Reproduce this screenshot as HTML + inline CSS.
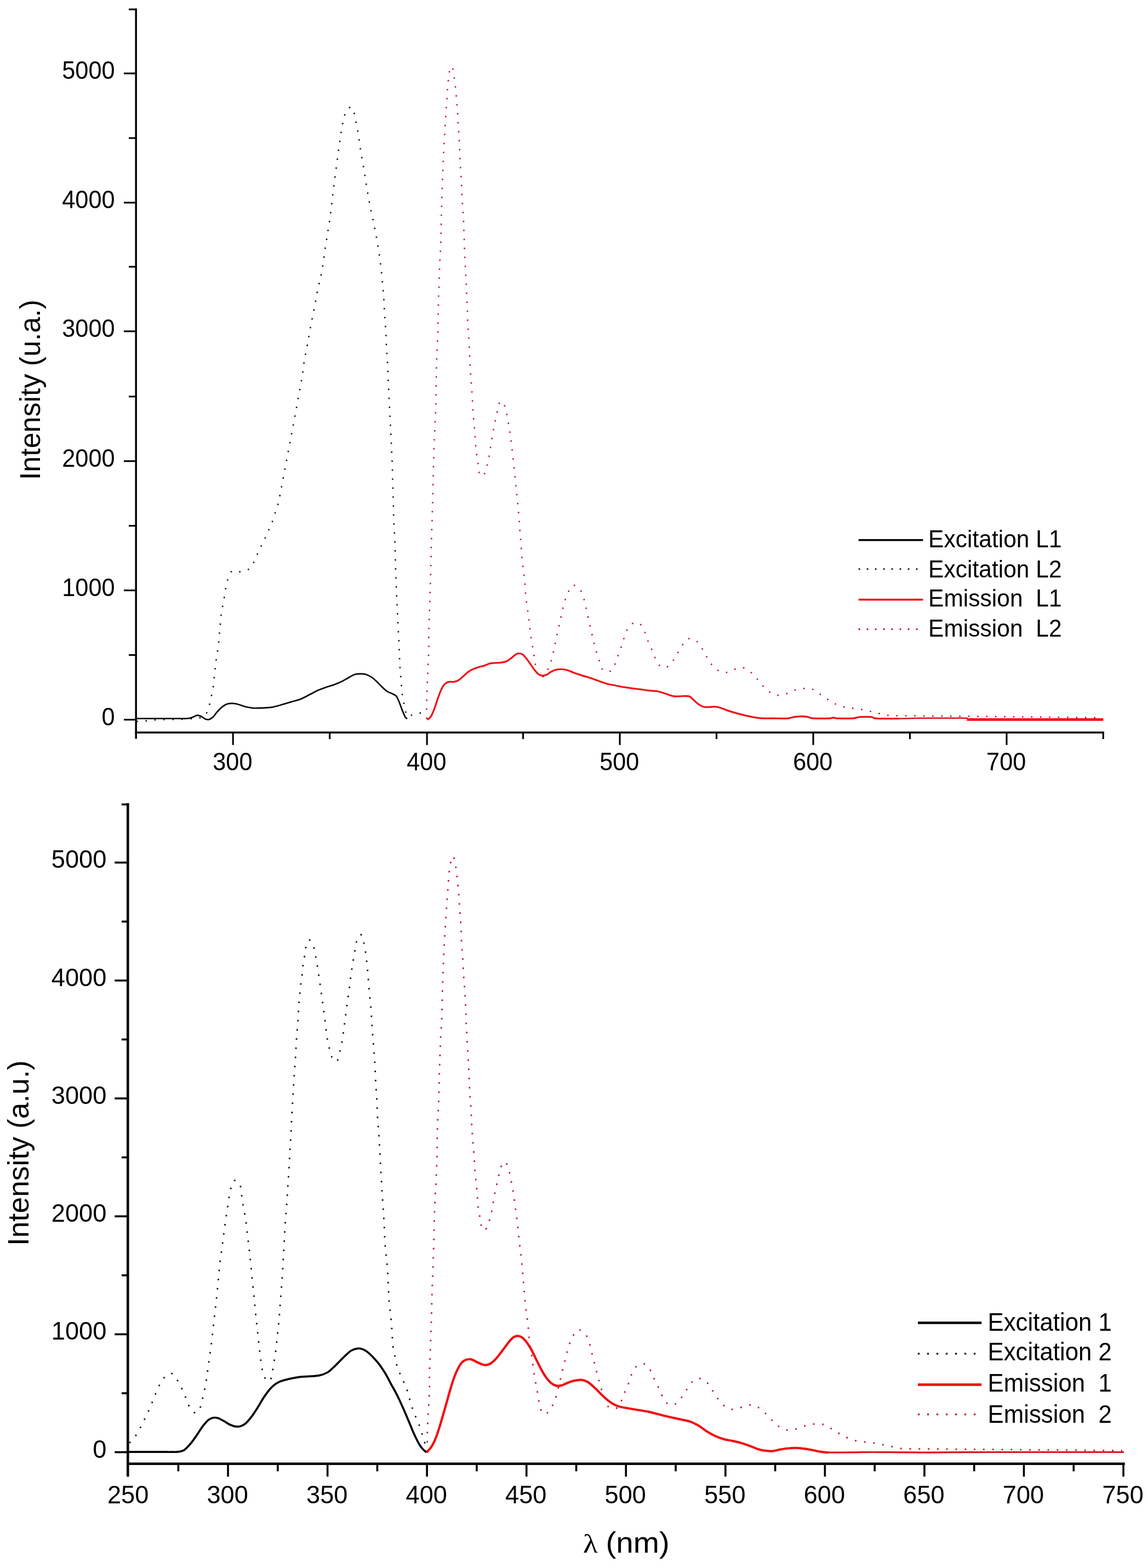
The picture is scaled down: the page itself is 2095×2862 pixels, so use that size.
<!DOCTYPE html>
<html lang="en">
<head>
<meta charset="utf-8">
<title>Excitation and emission spectra</title>
<style>
html,body{margin:0;padding:0;background:#fff;}
body{width:2095px;height:2862px;overflow:hidden;}
svg{display:block;}
text{white-space:pre;}
</style>
</head>
<body>
<svg width="2095" height="2862" viewBox="0 0 2095 2862">
<rect width="2095" height="2862" fill="#ffffff"/>
<g class="chart">
<path d="M249.1 1316.9C254.5 1316.6 260 1316.3 265.4 1315.9C271.5 1315.3 277.5 1314.4 283.6 1314C293.3 1313.5 303 1313.6 312.6 1313.3C323.5 1313 334.4 1313 345.3 1312.2C352.6 1311.7 360 1311.2 367.1 1309.7C369.8 1309.1 372.8 1308.3 374.4 1306.1C378 1300.9 379.7 1294.6 381.6 1288.6C383.4 1283.3 384.1 1277.7 385.3 1272.3C386.5 1266.8 388 1261.4 388.9 1255.9C389.9 1249.9 390.1 1243.8 390.7 1237.8C391.3 1232.3 391.9 1226.9 392.5 1221.4C393.1 1216 393.6 1210.5 394.4 1205.1C395.1 1199.6 396.1 1194.2 396.9 1188.7C397.7 1183.3 398.5 1177.9 399.1 1172.4C399.7 1167 400 1161.5 400.5 1156.1C401 1150.6 401.5 1145.2 402 1139.7C402.5 1134.3 402.7 1128.8 403.4 1123.4C404.2 1117.9 405.4 1112.5 406.3 1107C407.2 1102.2 408.1 1097.3 408.9 1092.5C409.8 1087.1 410.4 1081.6 411.4 1076.2C412.5 1070.7 413.2 1065.1 415.1 1059.8C417.2 1053.7 418.1 1046 423.4 1042.4C427.7 1039.4 433.9 1044.3 439 1043.5C445 1042.5 451.6 1041.3 456.1 1037.3C461.1 1032.9 462.9 1025.8 465.9 1019.9C468.6 1014.5 470.6 1008.9 473.2 1003.5C475.8 998 478.9 992.7 481.5 987.2C484.1 981.8 486.4 976.3 488.8 970.8C491.2 965.4 493.9 960 496.1 954.5C498.1 949.1 499.7 943.6 501.5 938.1C503.3 932.7 505.4 927.3 506.9 921.8C508.4 916.4 509.5 910.9 510.6 905.4C524.1 834.1 537.8 762.7 550.7 691.3C552.7 680.3 553.6 669.2 555.4 658.2C557.3 647.3 559.6 636.5 561.6 625.5C563.6 614.7 565.4 603.7 567.4 592.9C569.5 581.9 571.9 571.1 574 560.2C576.1 549.3 577.9 538.3 580.1 527.5C582.4 516.5 585.4 505.8 587.4 494.8C589.4 484 590.5 473 592.1 462.1C593.8 451.2 595.5 440.3 597.2 429.4C598.9 418.5 600.8 407.7 602.3 396.7C603.8 385.9 605 374.9 606.3 364C607.6 353.1 608.9 342.2 610.3 331.4C611.7 320.6 613.2 309.8 614.6 299C616.1 288 617.5 277 619 266C620.5 255.2 621.9 244.4 623.7 233.7C624.7 228 625.9 222.4 627.4 216.9C628.8 211.8 629.3 206 632.4 201.7C634.6 198.7 639.2 194 642.3 196.2C646.9 199.6 645.9 207.1 647.3 212.6C648.8 218 649.9 223.5 651 228.9C652.1 234.4 653 239.8 653.9 245.3C655.6 256.2 656.8 267.1 658.6 278C660.4 288.9 662.6 299.7 664.4 310.7C666.2 321.5 667.7 332.5 669.5 343.3C671.3 354.3 673.2 365.2 675.3 376C677.4 387 680 397.8 682.2 408.7C684.4 419.6 686.5 430.5 688.4 441.4C690.2 452.3 692 463.2 693.5 474.1C694.9 485 696 495.9 697.1 506.8C698.2 517.7 699.2 528.6 700 539.5C700.8 550.4 701.2 561.3 701.8 572.2C702.5 583.1 703.4 593.9 704 604.8C704.6 615.6 704.8 626.4 705.4 637.2C706.1 648.2 707.1 659.2 707.6 670.2C707.9 675.5 707.8 680.8 708 686.1C708.5 697.7 709.2 709.3 709.8 720.9C710.3 731.8 710.7 742.7 711.3 753.6C711.8 764.5 712.5 775.4 713.1 786.3C713.6 797.2 714 808.1 714.5 819C715 829.9 715.6 840.8 716 851.7C716.3 862.6 716.4 873.5 716.7 884.4C717 895.3 717.5 906.2 717.8 917.1C718.1 928 718.1 938.9 718.5 949.8C718.9 960.5 719.9 971.3 720.3 982.1C720.8 993 721.1 1003.9 721.4 1014.8C721.7 1025.7 721.8 1036.6 722.2 1047.5C722.5 1058.4 723.1 1069.2 723.6 1080.1C724.1 1091 724.6 1101.9 725.1 1112.8C725.5 1123.7 726 1134.6 726.5 1145.5C727.1 1156.4 727.8 1167.3 728.3 1178.2C728.9 1189.6 729.1 1201 729.6 1212.3C729.8 1217.8 730.3 1223.2 730.7 1228.7C731.1 1234.1 731.7 1239.6 732.1 1245C732.6 1250.5 732.6 1256 733.2 1261.4C733.8 1266.9 734.7 1272.3 735.8 1277.7C736.8 1283.2 737.9 1288.7 739.4 1294.1C740.6 1298.6 740.2 1304.4 743.8 1307.5C746 1309.4 749.3 1305.7 752.1 1305C758.1 1303.4 764.2 1301.9 770.3 1300.6C772.7 1300.1 775.1 1299.9 777.5 1299.5" fill="none" stroke="#111" stroke-width="2.6" stroke-linejoin="round" stroke-linecap="butt" stroke-dasharray="2.6 13.8"/>
<path d="M778.6 1312.2C778.6 1301.9 778.4 1291.6 778.6 1281.4C778.8 1270.5 779.3 1259.6 779.7 1248.7C780.5 1228.2 781.9 1207.8 782.4 1187.3C782.8 1176.4 782.3 1165.5 782.4 1154.6C782.6 1143.7 783.2 1132.8 783.5 1121.9C783.9 1111 784.3 1100.1 784.6 1089.2C785.1 1072.6 785.7 1056.1 786.1 1039.5C786.5 1023.1 786.7 1006.8 787.2 990.4C787.5 979.5 787.9 968.6 788.3 957.7C788.8 941.4 789.3 925.1 789.7 908.7C790.1 892.4 790.4 876 790.8 859.7C791.2 843.3 791.7 827 792.3 810.7C792.6 799.8 793.2 788.9 793.7 778C794.2 767.1 794.8 756.2 795.2 745.3C795.7 728.3 796 711.4 796.2 694.4C796.3 689.1 796.1 683.9 796.2 678.6C796.5 667.7 796.9 656.8 797.3 645.9C797.8 634.9 798.4 623.9 798.8 612.8C799.2 601.9 799.3 591 799.5 580.1C799.8 569.2 799.9 558.4 800.2 547.5C800.5 536.6 801 525.7 801.3 514.8C801.7 503.9 801.9 493 802.4 482.1C802.9 471.2 803.8 460.3 804.2 449.4C804.7 438.5 804.7 427.6 805 416.7C805.2 405.6 805.4 394.4 805.7 383.3C806 372.4 806.4 361.5 806.8 350.6C807.1 339.7 807.4 328.8 807.9 317.9C808.3 307 808.8 296.1 809.3 285.2C809.9 274.3 810.5 263.4 811.1 252.5C811.7 241.6 812.3 230.7 813 219.9C813.6 209 814.4 198.1 815.1 187.2C815.9 176.3 816.3 165.4 817.3 154.5C817.8 149 818.5 143.5 819.5 138.1C820.5 132.6 819.3 125.6 823.5 121.8C825.9 119.6 826.7 127.7 827.5 130.9C828.8 136.2 829 141.8 829.7 147.2C830.3 152.7 831 158.1 831.5 163.6C832.5 174.4 833.6 185.3 834.4 196.2C835.2 207.1 835.5 218 836.2 228.9C836.9 239.8 837.8 250.7 838.4 261.6C838.9 272.5 838.9 283.4 839.5 294.3C840 305.2 841 316.1 841.6 327C842.3 337.9 842.5 348.8 843.1 359.7C843.7 370.6 844.7 381.5 845.3 392.4C845.9 403.3 846.3 414.2 846.7 425.1C847.2 436 847.4 446.9 847.8 457.7C848.2 468.6 848.7 479.5 849.3 490.4C849.8 501.3 850.5 512.2 851.1 523.1C851.6 534 852.1 544.9 852.5 555.8C853 566.7 853.1 577.6 853.6 588.5C854.2 599.4 855.2 610.3 855.8 621.2C856.4 632.1 856.7 643 857.3 653.9C857.8 664.8 858.4 675.7 859.1 686.6C859.8 698 860.9 709.5 861.6 720.9C862.3 731.8 862.7 742.7 863.4 753.6C864.2 764.5 865.5 775.4 866.3 786.3C867.2 797.2 867.6 808.1 868.5 819C869 824.5 869.9 829.9 870.7 835.4C871.6 840.8 872.6 846.3 873.6 851.7C874.7 857.4 873 864.4 876.9 868.8C878.9 871 883 866.6 884.5 864C887.3 859.3 887.9 853.4 889.2 848.1C890.8 842.1 892.2 836 893.2 829.9C895.1 819.3 896.1 808.6 897.9 797.9C899.9 786.8 902.1 775.6 904.5 764.5C905.7 758.9 906.7 753.3 908.5 747.8C910.2 742.6 909.5 733.3 915 732.6C920.1 731.9 920.5 741.2 922.3 746C924.2 751.2 924.9 756.9 925.9 762.3C927.9 773.2 929.8 784.1 931.4 795C932.9 806 934.1 817.1 935.4 828.1C936.6 838.9 937.9 849.6 939 860.4C940.1 871.1 940.8 881.7 941.9 892.4C943 903.5 944.5 914.6 945.5 925.8C946.5 936.7 947.2 947.6 948.1 958.5C948.9 969.4 949.8 980.3 950.6 991.2C951.5 1002.1 952.1 1013 953.1 1023.8C954.2 1034.8 956.1 1045.6 957.1 1056.5C958.2 1067.4 958.5 1078.4 959.7 1089.2C960.8 1100.2 962.7 1111 964 1121.9C965.5 1133.2 966.5 1144.5 968 1155.7C969.5 1166.3 971.4 1176.8 973.1 1187.3C974.9 1198.5 976 1209.9 978.5 1220.9C979.8 1226.4 980.3 1233.1 984.6 1236.7C986.9 1238.7 991 1235.4 993.1 1233.1C997.2 1228.3 999.6 1222.2 1002.1 1216.4C1004.5 1211.1 1006.1 1205.4 1007.6 1199.8C1010.4 1188.8 1012.4 1177.6 1014.8 1166.5C1017.2 1155.6 1019.7 1144.7 1022.1 1133.8C1024.5 1123 1026.4 1112.1 1029.4 1101.4C1031 1095.7 1033.2 1090.1 1035.7 1084.7C1038.4 1079.2 1039.2 1071.2 1044.8 1068.7C1049.2 1066.8 1054.6 1071.4 1057.8 1075.1C1061.8 1079.6 1063.3 1085.9 1065.1 1091.7C1068.3 1102.3 1070.2 1113.3 1072.7 1124.1C1075.2 1135.2 1077.6 1146.3 1080.2 1157.4C1082.8 1168.3 1085.4 1179.3 1088.4 1190.1C1090 1195.9 1092 1201.7 1094.1 1207.3C1096.3 1213 1096.6 1220.3 1101.4 1224C1105.3 1226.9 1112 1226.8 1115.9 1224C1120.9 1220.3 1121.7 1213 1124.1 1207.3C1126.4 1201.9 1127.8 1196.2 1129.9 1190.7C1131.9 1185.1 1134.3 1179.7 1136.2 1174C1138.1 1168.3 1139 1162.3 1141.4 1156.8C1143.8 1151.1 1145.7 1144.7 1150.4 1140.7C1154.3 1137.5 1160.4 1134.7 1165 1136.8C1170.9 1139.6 1173.1 1147.1 1176.2 1152.8C1178.6 1157.3 1179.4 1162.4 1181.3 1167.1C1183.6 1172.8 1186.5 1178.3 1188.9 1184C1191.3 1189.7 1192.9 1195.8 1195.8 1201.3C1199.1 1207.2 1201.4 1214.7 1207.3 1217.9C1211.5 1220.2 1217.5 1217.8 1221.2 1214.9C1226.7 1210.6 1229.5 1203.5 1233.3 1197.6C1236.9 1192.1 1239.5 1186 1243.3 1180.7C1247.1 1175.4 1249.8 1167.8 1256 1165.9C1261.6 1164.1 1268.1 1167.9 1272.6 1171.6C1277.9 1175.8 1280.3 1182.6 1283.8 1188.3C1287.4 1194 1290.1 1200.2 1293.8 1205.8C1297.3 1210.9 1300.4 1216.6 1305.3 1220.3C1310.1 1224 1315.9 1227.2 1322 1227.6C1327.7 1228 1332.8 1224 1338.3 1222.5C1343.9 1220.9 1349.6 1217.5 1355.3 1218.5C1361.6 1219.7 1367 1224.3 1371.9 1228.5C1377.4 1233.1 1381.4 1239.2 1386.1 1244.6C1390.7 1249.6 1394.4 1255.5 1399.8 1259.7C1404.8 1263.7 1410.4 1267.6 1416.7 1268.8C1422.6 1269.9 1428.8 1267.9 1434.6 1266.3C1440.1 1264.9 1444.9 1261.3 1450.3 1259.7C1455.5 1258.1 1460.9 1256.9 1466.3 1256.7C1471.9 1256.4 1477.8 1256.3 1483 1258.2C1488.9 1260.3 1493.5 1265 1498.7 1268.5C1504.4 1272.2 1509.8 1276.5 1515.7 1280C1520.9 1283.1 1526.3 1286.1 1532 1288.1C1537.5 1290.1 1543.2 1291.1 1549 1292.1C1554.4 1293 1559.9 1292.7 1565.3 1293.6C1570.9 1294.5 1576.4 1296 1582 1297.2C1587.3 1298.4 1592.7 1299.3 1598 1300.5C1603.6 1301.9 1609 1304.1 1614.6 1305.1C1620.1 1306 1625.7 1306.1 1631.3 1306.3C1645.4 1306.7 1659.6 1306.5 1673.7 1306.6C1687.8 1306.8 1702 1306.9 1716.1 1307C1728.1 1307.1 1740.1 1307.2 1752.1 1307.4C1764.1 1307.5 1776.1 1307.6 1788.1 1307.7C1800.1 1307.8 1812.1 1308 1824.2 1308.1C1836.2 1308.2 1848.2 1308.3 1860.2 1308.4C1872.2 1308.6 1884.2 1308.7 1896.2 1308.8C1908.2 1308.9 1920.2 1309 1932.2 1309.2C1945.4 1309.3 1958.6 1309.4 1971.8 1309.5C1985 1309.6 1998.2 1309.8 2011.4 1309.9" fill="none" stroke="#c40f2e" stroke-width="2.6" stroke-linejoin="round" stroke-linecap="butt" stroke-dasharray="2.6 13.8"/>
<path d="M249.1 1311.5C258.2 1311.5 267.2 1311.5 276.3 1311.5C282.4 1311.5 288.4 1311.5 294.5 1311.5C300.5 1311.5 306.6 1311.5 312.6 1311.5C318.7 1311.5 324.7 1311.5 330.8 1311.5C333.8 1311.5 336.9 1311.6 339.9 1311.5C342.1 1311.4 344.3 1311.3 346.4 1310.8C348.5 1310.3 350.5 1309.4 352.6 1308.6C355 1307.7 357.3 1305.9 359.9 1305.7C362.3 1305.5 364.8 1306.5 367.1 1307.5C369.8 1308.7 371.7 1311.2 374.4 1312.2C376.7 1313.1 379.3 1313.9 381.6 1313.3C384.4 1312.6 386.8 1310.6 388.9 1308.6C391.7 1305.9 393.6 1302.4 396.2 1299.5C399 1296.3 401.9 1293.1 405.3 1290.4C408 1288.2 411 1286.2 414.3 1285C417.2 1284 420.4 1283.9 423.4 1283.9C426.5 1283.9 429.5 1284.3 432.5 1285C437.4 1286.2 442.1 1288.5 447 1289.7C451.8 1290.9 456.7 1291.8 461.5 1292.3C466.4 1292.7 471.2 1292.4 476.1 1292.3C482.1 1292 488.2 1292.1 494.2 1291.2C500.4 1290.2 506.4 1288.4 512.4 1286.8C518.5 1285.2 524.5 1283.2 530.6 1281.4C536.6 1279.5 542.8 1278.3 548.7 1275.9C555 1273.4 560.8 1269.9 566.9 1266.8C571.7 1264.4 576.4 1261.7 581.4 1259.6C586.1 1257.5 591.1 1255.8 595.9 1254.1C600.7 1252.4 605.7 1251.2 610.5 1249.4C615.4 1247.5 620.3 1245.5 625 1243.2C628.7 1241.4 632.2 1239.1 635.9 1237C639.5 1235.1 642.9 1232.5 646.8 1231.2C650.3 1230.1 654 1229.8 657.7 1229.8C661.3 1229.8 665.1 1230.1 668.6 1231.2C672.5 1232.5 676.1 1234.6 679.5 1237C683.4 1239.9 686.8 1243.5 690.4 1246.9C694.1 1250.4 697.4 1254.3 701.3 1257.7C703.5 1259.8 705.9 1261.7 708.5 1263.2C710.8 1264.5 713.5 1264.9 715.8 1266.1C718.3 1267.4 721.2 1268.3 723.1 1270.5C725.7 1273.6 726.9 1277.6 728.5 1281.4C730.5 1286.1 732 1291.1 733.9 1295.9C735.7 1300.2 737.2 1304.6 739.4 1308.6C740.2 1310.1 741.8 1311 743 1312.2" fill="none" stroke="#000" stroke-width="2.7" stroke-linejoin="round" stroke-linecap="butt"/>
<path d="M779.7 1313.9C781.7 1312.1 784.1 1310.8 785.7 1308.7C787.7 1306 788.9 1302.7 790.3 1299.6C792 1295.7 793.4 1291.6 794.8 1287.5C796.4 1283 797.8 1278.4 799.3 1273.9C800.8 1269.8 802.2 1265.8 803.9 1261.8C805.2 1258.7 806.6 1255.6 808.4 1252.7C809.7 1250.8 811.2 1249 813 1247.6C814.8 1246.2 816.8 1245 819 1244.6C821.5 1244 824.1 1244.8 826.6 1244.6C829.1 1244.3 831.8 1244 834.2 1243C836.4 1242.1 838.3 1240.6 840.2 1239.1C842.9 1237 845.2 1234.4 847.8 1232.1C850.7 1229.6 853.5 1226.7 856.9 1224.6C859.7 1222.8 862.8 1221.6 865.9 1220.3C868.9 1219.2 872 1218.2 875 1217.3C878 1216.4 881.1 1215.9 884.1 1214.9C887.2 1213.9 890 1212.1 893.2 1211.3C896.1 1210.5 899.2 1210.3 902.3 1210C906.3 1209.7 910.4 1210 914.4 1209.4C918 1208.9 921.6 1208.2 925 1206.7C928.3 1205.2 931.1 1202.6 934 1200.4C936.6 1198.4 938.8 1195.9 941.6 1194.3C943.4 1193.3 945.5 1192.4 947.7 1192.5C949.8 1192.5 952 1193.3 953.7 1194.6C956.7 1196.9 958.9 1199.9 961.3 1202.8C964 1206.2 966.3 1209.8 968.8 1213.4C971.4 1216.9 973.6 1220.6 976.4 1224C978.7 1226.7 981 1229.6 984 1231.5C985.7 1232.7 987.9 1233.1 990 1233.1C992.6 1233.1 995.2 1232.6 997.6 1231.5C1000.4 1230.3 1002.5 1227.9 1005.2 1226.4C1008.1 1224.8 1011.1 1223.3 1014.2 1222.5C1017.2 1221.7 1020.3 1221.5 1023.3 1221.5C1026.4 1221.5 1029.4 1221.8 1032.4 1222.5C1035.5 1223.1 1038.5 1224.4 1041.5 1225.5C1044.5 1226.6 1047.5 1228 1050.6 1229.1C1054.6 1230.5 1058.6 1231.8 1062.7 1233.1C1067.7 1234.6 1072.8 1235.9 1077.8 1237.6C1082.9 1239.3 1087.9 1241.3 1092.9 1243C1098 1244.8 1102.9 1246.8 1108.1 1248.2C1113 1249.5 1118.2 1250.2 1123.2 1251.2C1128.2 1252.2 1133.3 1253.4 1138.3 1254.2C1143.4 1255.1 1148.4 1255.7 1153.5 1256.4C1158.5 1257 1163.6 1257.5 1168.6 1258.2C1173.6 1258.8 1178.7 1259.7 1183.7 1260.3C1189.1 1260.9 1194.7 1260.8 1200 1261.8C1205.2 1262.8 1210.1 1264.8 1215.1 1266.3C1220.2 1267.9 1225 1270.3 1230.3 1270.9C1239.3 1271.9 1248.6 1269.3 1257.5 1270.9C1260.7 1271.4 1262.6 1274.9 1265.1 1276.9C1268.6 1279.9 1271.8 1283.5 1275.7 1286C1278.9 1288.1 1282.4 1290.1 1286.3 1290.6C1292.8 1291.4 1299.4 1289.6 1305.9 1290C1309 1290.1 1312 1291.1 1315 1292.1C1319.1 1293.4 1323 1295.3 1327.1 1296.6C1333.1 1298.6 1339.2 1300.4 1345.3 1302.1C1351.3 1303.7 1357.3 1305.3 1363.4 1306.6C1371.5 1308.3 1379.5 1310.1 1387.7 1310.8C1395.7 1311.6 1403.8 1311.1 1411.9 1311.1C1420.9 1311.2 1430 1311.7 1439.1 1311.1C1442.2 1310.9 1445.1 1309.3 1448.2 1308.7C1451.2 1308.2 1454.2 1307.9 1457.3 1307.8C1462.3 1307.7 1467.4 1307.5 1472.4 1308.1C1475.5 1308.5 1478.3 1310.6 1481.5 1310.8C1492.5 1311.6 1503.7 1311.4 1514.8 1311.1C1516.8 1311.1 1518.8 1309.9 1520.8 1309.9C1522.9 1309.9 1524.8 1311.1 1526.9 1311.1C1537 1311.5 1547.1 1311.7 1557.1 1311.1C1561.3 1310.9 1565.1 1309 1569.2 1308.7C1576.3 1308.2 1583.4 1308.1 1590.4 1308.7C1592.6 1308.9 1594.3 1310.9 1596.5 1311.1C1605.5 1312 1614.6 1311.6 1623.7 1311.7C1629.2 1311.8 1634.6 1311.7 1640 1311.7" fill="none" stroke="#f20d12" stroke-width="3.2" stroke-linejoin="round" stroke-linecap="butt"/>
<path d="M1640 1311.7C1653.3 1311.4 1666.7 1311 1680 1310.8C1693.3 1310.6 1706.7 1310.8 1720 1310.8C1727.7 1310.8 1735.3 1310.8 1743 1310.8C1750.7 1310.8 1758.3 1310.8 1766 1310.8" fill="none" stroke="#d4141a" stroke-width="2.4" stroke-linejoin="round" stroke-linecap="butt"/>
<path d="M1764.5 1313.4C1778.3 1313.4 1792.2 1313.4 1806 1313.4C1819.8 1313.4 1833.6 1313.4 1847.5 1313.4C1861.3 1313.4 1875.1 1313.4 1889 1313.4C1902.8 1313.4 1916.6 1313.4 1930.4 1313.4C1944.3 1313.4 1958.1 1313.4 1971.9 1313.4C1985.7 1313.4 1999.6 1313.4 2013.4 1313.4" fill="none" stroke="#fa0508" stroke-width="4.6" stroke-linejoin="round" stroke-linecap="butt"/>
<g stroke="#000" stroke-width="3.5" fill="none" stroke-linecap="butt">
<path d="M248.2 15.4 V1348.5"/>
<path d="M246.5 1337 H2015"/>
</g>
<g stroke="#000" stroke-width="3.1" fill="none" stroke-linecap="butt">
<path d="M226 1313.6 H248.2"/>
<path d="M235 1195.6 H248.2"/>
<path d="M226 1077.6 H248.2"/>
<path d="M235 959.7 H248.2"/>
<path d="M226 841.7 H248.2"/>
<path d="M235 723.8 H248.2"/>
<path d="M226 604.7 H248.2"/>
<path d="M235 486.9 H248.2"/>
<path d="M226 369.9 H248.2"/>
<path d="M235 252 H248.2"/>
<path d="M226 134 H248.2"/>
<path d="M235 17.1 H248.2"/>
<path d="M425.2 1337 V1359.8"/>
<path d="M601.7 1337 V1349"/>
<path d="M779.2 1337 V1359.8"/>
<path d="M954.6 1337 V1349"/>
<path d="M1131.1 1337 V1359.8"/>
<path d="M1307.6 1337 V1349"/>
<path d="M1484.1 1337 V1359.8"/>
<path d="M1660.5 1337 V1349"/>
<path d="M1837 1337 V1359.8"/>
<path d="M2013.3 1337 V1349"/>
</g>
<g font-family='"Liberation Sans", Arial, Helvetica, sans-serif'>
<text transform="translate(209.6 1323.8) scale(0.948 1)" text-anchor="end" font-size="45.7" fill="#000" xml:space="preserve">0</text>
<text transform="translate(209.6 1087.8) scale(0.948 1)" text-anchor="end" font-size="45.7" fill="#000" xml:space="preserve">1000</text>
<text transform="translate(209.6 851.9) scale(0.948 1)" text-anchor="end" font-size="45.7" fill="#000" xml:space="preserve">2000</text>
<text transform="translate(209.6 614.9) scale(0.948 1)" text-anchor="end" font-size="45.7" fill="#000" xml:space="preserve">3000</text>
<text transform="translate(209.6 380.1) scale(0.948 1)" text-anchor="end" font-size="45.7" fill="#000" xml:space="preserve">4000</text>
<text transform="translate(209.6 144.2) scale(0.948 1)" text-anchor="end" font-size="45.7" fill="#000" xml:space="preserve">5000</text>
<text transform="translate(424.4 1406.3) scale(0.948 1)" text-anchor="middle" font-size="45.7" fill="#000" xml:space="preserve">300</text>
<text transform="translate(778.4 1406.3) scale(0.948 1)" text-anchor="middle" font-size="45.7" fill="#000" xml:space="preserve">400</text>
<text transform="translate(1130.3 1406.3) scale(0.948 1)" text-anchor="middle" font-size="45.7" fill="#000" xml:space="preserve">500</text>
<text transform="translate(1483.3 1406.3) scale(0.948 1)" text-anchor="middle" font-size="45.7" fill="#000" xml:space="preserve">600</text>
<text transform="translate(1836.2 1406.3) scale(0.948 1)" text-anchor="middle" font-size="45.7" fill="#000" xml:space="preserve">700</text>
<text transform="translate(72.8 711.5) rotate(-90) scale(0.99 1)" text-anchor="middle" font-size="52.5" fill="#000" xml:space="preserve">Intensity (u.a.)</text>
<path d="M1566.7 985.7 H1684.4" stroke="#000" stroke-width="3.4" fill="none"/>
<text transform="translate(1694 999.2) scale(0.946 1)" text-anchor="start" font-size="45" fill="#000" xml:space="preserve">Excitation L1</text>
<path d="M1566.7 1038.7 H1684.4" stroke="#111" stroke-width="2.8" fill="none" stroke-dasharray="2.8 12.2"/>
<text transform="translate(1694 1053.8) scale(0.946 1)" text-anchor="start" font-size="45" fill="#000" xml:space="preserve">Excitation L2</text>
<path d="M1566.7 1094.5 H1684.4" stroke="#f20d12" stroke-width="3.6" fill="none"/>
<text transform="translate(1694 1107.1) scale(0.946 1)" text-anchor="start" font-size="45" fill="#000" xml:space="preserve">Emission  L1</text>
<path d="M1566.7 1148.5 H1684.4" stroke="#c40f2e" stroke-width="2.8" fill="none" stroke-dasharray="2.8 12.2"/>
<text transform="translate(1694 1162.4) scale(0.946 1)" text-anchor="start" font-size="45" fill="#000" xml:space="preserve">Emission  L2</text>
</g>
</g>
<g class="chart">
<path d="M236.3 2633.9C240.8 2628.5 245.8 2623.4 249.8 2617.6C253.1 2612.7 255.4 2607.2 258.1 2601.9C261 2596.3 263.8 2590.6 266.5 2584.9C269.2 2579.2 272 2573.6 274.5 2567.8C276.8 2562.3 278.8 2556.6 281 2551.1C283.4 2545.4 285.6 2539.6 288.3 2534C290.9 2528.4 292.9 2522.3 297 2517.7C301.2 2512.9 306.3 2505.8 312.6 2506.8C319.2 2507.8 321.7 2516.5 325.3 2522C328.8 2527.2 331.1 2533.1 333.7 2538.7C336.3 2544.4 338.5 2550.1 340.9 2555.8C343.3 2561.3 344.6 2567.2 347.8 2572.2C349.8 2575.1 352.8 2577.9 356.2 2578.7C358.5 2579.3 361.5 2577.8 362.7 2575.8C365.7 2570.9 366.3 2564.9 367.8 2559.4C369.3 2554 370.6 2548.6 371.8 2543.1C373.1 2537.3 374.4 2531.5 375.4 2525.7C376.5 2520 377.2 2514.3 378 2508.6C378.8 2503.2 379.4 2497.7 380.2 2492.3C381 2486.6 381.9 2480.9 382.7 2475.2C384.2 2463.9 385.7 2452.7 387.1 2441.4C388.4 2430.3 389.4 2419.1 390.7 2408C392 2396.7 393.5 2385.5 394.7 2374.2C395.9 2363.1 396.9 2351.9 398 2340.8C399.1 2329.5 400 2318.3 401.2 2307C402.5 2295.9 404.1 2284.7 405.6 2273.6C407.1 2262.3 408.4 2251.1 410 2239.8C411.5 2228.3 413.2 2216.8 415 2205.3C416.7 2194.4 417.9 2183.4 420.5 2172.6C421.9 2166.6 422.1 2159 427 2155.2C429.9 2153 434.9 2156.8 436.8 2159.9C439.8 2164.6 439.1 2170.8 440.1 2176.3C441.1 2181.9 441.7 2187.7 442.6 2193.3C444.5 2204.6 446.8 2215.8 448.5 2227.1C450.1 2238.3 451.1 2249.6 452.4 2260.9C453.8 2272.3 455.2 2283.6 456.4 2295C457.6 2306.3 458.6 2317.6 459.7 2328.8C460.8 2339.7 461.9 2350.6 463 2361.5C464.1 2372.6 465.1 2383.8 466.2 2394.9C467.4 2406.4 468.6 2417.9 469.9 2429.4C471.1 2440.4 472.2 2451.5 473.5 2462.5C474.9 2473.6 475.9 2484.8 477.9 2495.9C478.8 2501.4 479.7 2507.2 482.2 2512.2C484.1 2515.9 487 2523.3 490.6 2521.3C495.9 2518.4 495.2 2510.1 496.8 2504.2C498.2 2498.8 498.7 2493.1 499.7 2487.5C500.6 2481.8 501.8 2476.2 502.6 2470.5C504 2459.6 505.1 2448.7 506.2 2437.8C507.4 2426.6 508.5 2415.5 509.5 2404.4C510.4 2393.1 511.2 2381.8 512 2370.6C512.9 2359.3 513.8 2348.1 514.6 2336.8C515.3 2325.3 516.1 2313.8 516.7 2302.3C517.4 2291.2 518 2280 518.5 2268.9C519.2 2257.4 519.6 2245.9 520.4 2234.4C521.1 2223.5 522.1 2212.6 522.9 2201.7C523.7 2190.6 524.4 2179.4 525.1 2168.3C525.8 2157 526.6 2145.8 527.3 2134.5C527.9 2123.6 528.5 2112.7 529.1 2101.8C529.7 2090.4 530.5 2079 531.1 2067.6C531.7 2056.3 532 2045 532.6 2033.8C533.2 2022.6 534.1 2011.5 534.7 2000.4C535.4 1989.1 535.8 1977.8 536.6 1966.6C537.3 1955.2 538.4 1943.8 539.1 1932.4C539.8 1921.2 540.2 1909.9 540.9 1898.7C541.6 1887.5 542.7 1876.4 543.5 1865.3C544.3 1854 544.8 1842.7 545.6 1831.5C546.5 1820.6 547.4 1809.7 548.5 1798.8C549.2 1793.1 550.4 1787.4 551.1 1781.7C551.7 1776.2 551.8 1770.6 552.5 1765C553.3 1759.3 554.6 1753.6 555.4 1747.9C556.3 1742.5 556.2 1736.9 557.6 1731.6C559 1726.2 558.4 1717.3 563.8 1716C568.5 1714.8 570.3 1723.5 572.2 1728C574.3 1733.1 574.7 1738.8 575.8 1744.3C576.9 1749.7 577.8 1755.2 578.7 1760.7C580.5 1771.9 582.1 1783.2 583.8 1794.4C585.4 1805.6 587 1816.7 588.5 1827.8C590 1839 591.4 1850.1 592.9 1861.3C594.3 1872.8 595.5 1884.3 597.2 1895.8C598 1901 599.2 1906.2 600.5 1911.4C601.9 1917.1 602.6 1923.2 605.2 1928.5C607 1932.1 610 1939.5 613.6 1937.5C618.9 1934.6 618 1926.2 619.7 1920.5C621.4 1915.1 622.8 1909.6 623.7 1904.1C625.7 1892.9 626.9 1881.6 628.5 1870.3C630 1859.2 631.3 1848.1 632.8 1836.9C634.3 1825.7 636 1814.4 637.5 1803.1C639 1792 640.2 1780.8 641.9 1769.7C643.5 1758.8 645.5 1747.9 647.3 1737C648.4 1731 648.4 1724.6 650.6 1718.9C652.4 1714.1 654.1 1704.6 659 1706.2C664.7 1708 663 1717.5 664.4 1723.2C665.7 1728.6 666.6 1734.1 667.3 1739.6C668.8 1750.5 669.9 1761.4 670.9 1772.3C672 1783.5 672.5 1794.8 673.5 1806.1C674.5 1817.2 675.8 1828.3 676.8 1839.5C677.7 1850.5 678.2 1861.5 678.9 1872.5C679.7 1883.9 680.6 1895.3 681.5 1906.7C682.3 1917.9 683.3 1929.2 684 1940.4C684.7 1951.6 684.9 1962.7 685.5 1973.8C686.1 1985.1 687 1996.4 687.7 2007.6C688.3 2018.9 688.4 2030.2 689.1 2041.4C689.8 2052.8 690.9 2064.2 691.6 2075.5C692.4 2086.8 692.9 2098.1 693.5 2109.3C694.1 2120.6 694.6 2131.8 695.3 2143.1C696.2 2159.6 697.3 2176.1 698.3 2192.6C699 2203.5 699.9 2214.4 700.5 2225.3C701.5 2242.2 701.8 2259.2 703.1 2276.2C703.9 2287.7 705.7 2299.1 706.7 2310.7C707.6 2321.5 707.9 2332.4 708.5 2343.3C709.1 2354.8 709.4 2366.4 710.3 2377.8C711.2 2388.8 713 2399.6 713.9 2410.5C715.4 2427.5 715.8 2444.5 717.6 2461.4C718.2 2466.9 720 2472.3 721.2 2477.7C722.4 2483.2 723.2 2488.7 724.8 2494.1C726.8 2500.3 729.5 2506.2 732.1 2512.2C735 2519 738.7 2525.3 741.2 2532.2C744.8 2542.3 747.1 2552.8 750.3 2563.1C752 2568.6 753.6 2574.1 755.7 2579.4C757.9 2585 760.8 2590.2 763 2595.8C765.1 2601.1 766.7 2606.6 768.4 2612.1C770.3 2617.9 772.1 2623.7 773.9 2629.5C775.5 2634.6 777 2639.7 778.6 2644.8" fill="none" stroke="#111" stroke-width="2.8" stroke-linejoin="round" stroke-linecap="butt" stroke-dasharray="2.8 14.0"/>
<path d="M779.7 2649.8C779.7 2640.4 779.6 2631.1 779.7 2621.7C779.9 2611.7 780.4 2601.8 780.9 2591.8C781.7 2573.1 783.1 2554.5 783.7 2535.8C784 2525.9 783.5 2515.9 783.7 2506C783.9 2496 784.4 2486.1 784.8 2476.1C785.2 2466.2 785.6 2456.2 785.9 2446.3C786.4 2431.2 787 2416 787.4 2400.9C787.8 2386 788.1 2371.1 788.5 2356.1C788.8 2346.2 789.3 2336.2 789.7 2326.3C790.2 2311.4 790.7 2296.5 791.2 2281.5C791.6 2266.6 791.8 2251.7 792.3 2236.8C792.7 2221.9 793.2 2207 793.8 2192C794.2 2182.1 794.8 2172.2 795.3 2162.2C795.8 2152.3 796.4 2142.3 796.8 2132.4C797.3 2116.9 797.6 2101.4 797.9 2086C798 2081.1 797.8 2076.3 797.9 2071.5C798.1 2061.5 798.6 2051.6 799 2041.7C799.4 2031.6 800.1 2021.6 800.5 2011.5C800.9 2001.6 801 1991.6 801.2 1981.7C801.5 1971.7 801.7 1961.8 802 1951.8C802.3 1941.9 802.7 1931.9 803.1 1922C803.5 1912 803.7 1902.1 804.2 1892.2C804.7 1882.2 805.7 1872.3 806.1 1862.3C806.5 1852.4 806.6 1842.4 806.8 1832.5C807.1 1822.3 807.3 1812.2 807.6 1802C807.9 1792 808.3 1782.1 808.7 1772.2C809.1 1762.2 809.4 1752.3 809.8 1742.3C810.3 1732.4 810.8 1722.4 811.3 1712.5C811.9 1702.5 812.6 1692.6 813.2 1682.7C813.8 1672.7 814.4 1662.8 815.1 1652.8C815.7 1642.9 816.6 1632.9 817.3 1623C818.1 1613 818.6 1603.1 819.5 1593.1C820 1588.1 820.7 1583.1 821.8 1578.2C822.9 1573.2 821.9 1566.6 825.9 1563.3C828.3 1561.4 829.2 1568.6 830 1571.6C831.3 1576.5 831.6 1581.5 832.3 1586.5C832.9 1591.5 833.6 1596.5 834.1 1601.4C835.2 1611.4 836.3 1621.3 837.1 1631.3C837.9 1641.2 838.3 1651.2 839 1661.1C839.7 1671.1 840.7 1681 841.2 1690.9C841.8 1700.9 841.8 1710.8 842.3 1720.8C842.9 1730.7 844 1740.7 844.6 1750.6C845.2 1760.5 845.5 1770.5 846.1 1780.4C846.7 1790.4 847.7 1800.3 848.3 1810.3C848.9 1820.2 849.4 1830.2 849.8 1840.1C850.2 1850.1 850.5 1860 850.9 1869.9C851.4 1879.9 851.9 1889.8 852.4 1899.8C853 1909.7 853.7 1919.7 854.3 1929.6C854.9 1939.6 855.4 1949.5 855.8 1959.4C856.2 1969.4 856.4 1979.3 856.9 1989.3C857.5 1999.2 858.5 2009.2 859.2 2019.1C859.8 2029.1 860.1 2039 860.6 2049C861.2 2058.9 861.8 2068.8 862.5 2078.8C863.3 2089.3 864.4 2099.7 865.1 2110.2C865.9 2120.1 866.2 2130.1 867 2140C867.8 2150 869.1 2159.9 870 2169.8C870.9 2179.8 871.2 2189.7 872.2 2199.7C872.7 2204.7 873.6 2209.6 874.5 2214.6C875.3 2219.6 876.4 2224.5 877.5 2229.5C878.5 2234.7 877.1 2241.3 880.8 2245.1C882.9 2247.2 887 2243.3 888.7 2240.8C891.5 2236.5 892.1 2231.1 893.5 2226.2C895.1 2220.7 896.5 2215.2 897.6 2209.6C899.5 2199.9 900.6 2190.1 902.5 2180.4C904.5 2170.2 906.8 2160.1 909.2 2149.9C910.4 2144.8 911.5 2139.6 913.3 2134.7C915.1 2129.9 914.9 2121.4 920.1 2120.8C924.8 2120.2 925.7 2128.6 927.5 2133C929.5 2137.8 930.2 2142.9 931.3 2148C933.3 2157.9 935.3 2167.8 936.9 2177.8C938.5 2187.8 939.7 2197.9 941 2208C942.3 2217.8 943.6 2227.6 944.7 2237.5C945.8 2247.2 946.6 2256.9 947.7 2266.6C948.8 2276.8 950.4 2286.9 951.4 2297.1C952.5 2307.1 953.2 2317 954.1 2327C954.9 2336.9 955.8 2346.9 956.7 2356.8C957.5 2366.7 958.2 2376.7 959.3 2386.6C960.4 2396.6 962.3 2406.5 963.4 2416.5C964.5 2426.4 964.8 2436.4 966 2446.3C967.2 2456.3 969.1 2466.2 970.5 2476.1C971.9 2486.4 973 2496.7 974.6 2507C976.1 2516.6 978.1 2526.2 979.8 2535.8C981.7 2546 982.8 2556.5 985.4 2566.5C986.7 2571.6 987.4 2577.8 991.6 2580.9C994.1 2582.7 998.2 2579.8 1000.3 2577.6C1004.5 2573.3 1007.1 2567.7 1009.7 2562.4C1012.1 2557.5 1013.8 2552.4 1015.3 2547.2C1018.2 2537.2 1020.2 2526.9 1022.8 2516.8C1025.2 2506.8 1027.7 2496.9 1030.2 2487C1032.7 2477.1 1034.7 2467.1 1037.7 2457.4C1039.3 2452.1 1041.6 2447.1 1044.2 2442.2C1047 2437.1 1048.2 2429.7 1053.6 2427.6C1058.1 2425.8 1063.5 2429.9 1067 2433.4C1070.9 2437.4 1072.6 2443.2 1074.4 2448.6C1077.7 2458.2 1079.7 2468.3 1082.2 2478.1C1084.9 2488.2 1087.3 2498.4 1090 2508.5C1092.7 2518.5 1095.3 2528.5 1098.4 2538.3C1100.1 2543.7 1102.1 2548.9 1104.3 2554.1C1106.6 2559.3 1107.1 2566.1 1111.8 2569.3C1115.9 2572.1 1122.6 2572 1126.7 2569.3C1131.6 2566.1 1132.7 2559.3 1135.2 2554.1C1137.5 2549.2 1139 2543.9 1141.1 2538.9C1143.2 2533.8 1145.6 2528.9 1147.6 2523.7C1149.6 2518.5 1150.5 2512.9 1152.9 2508C1155.4 2502.7 1157.6 2496.8 1162.2 2493.3C1166.3 2490.2 1172.5 2487.8 1177.2 2489.7C1182.9 2492.1 1185.5 2499.1 1188.7 2504.4C1191.1 2508.4 1192 2513.1 1194 2517.4C1196.4 2522.6 1199.3 2527.6 1201.8 2532.8C1204.3 2538 1205.9 2543.7 1208.9 2548.6C1212.3 2554 1215 2561 1220.8 2563.8C1225.1 2565.8 1231 2563.8 1235 2561C1240.5 2557.2 1243.5 2550.7 1247.5 2545.3C1251.1 2540.2 1253.9 2534.6 1257.8 2529.8C1261.7 2524.9 1264.8 2517.9 1270.8 2516.2C1276.6 2514.7 1283.1 2518 1288 2521.5C1293.1 2525.2 1295.8 2531.5 1299.5 2536.7C1303.1 2541.9 1305.9 2547.6 1309.8 2552.7C1313.3 2557.4 1316.7 2562.6 1321.6 2566C1326.6 2569.4 1332.6 2572.3 1338.7 2572.6C1344.5 2572.9 1349.9 2569.3 1355.5 2567.9C1361.3 2566.5 1367.1 2563.4 1373 2564.3C1379.3 2565.3 1384.9 2569.6 1390.1 2573.4C1395.6 2577.6 1399.8 2583.2 1404.7 2588.1C1409.4 2592.7 1413.4 2598.1 1418.7 2601.9C1424 2605.6 1429.8 2609.1 1436.2 2610.2C1442.2 2611.2 1448.5 2609.4 1454.5 2608C1460.1 2606.6 1465.2 2603.4 1470.7 2601.9C1476.1 2600.4 1481.7 2599.3 1487.2 2599.1C1492.9 2598.9 1498.9 2598.7 1504.3 2600.5C1510.3 2602.4 1515.2 2606.7 1520.5 2609.9C1526.4 2613.3 1532 2617.2 1538 2620.4C1543.4 2623.2 1549 2626 1554.8 2627.8C1560.4 2629.7 1566.4 2630.6 1572.2 2631.4C1577.8 2632.2 1583.5 2632.1 1589 2632.8C1594.8 2633.6 1600.5 2635.1 1606.2 2636.1C1611.7 2637.2 1617.2 2638 1622.7 2639.2C1628.4 2640.4 1634 2642.4 1639.8 2643.3C1645.4 2644.2 1651.2 2644.3 1656.9 2644.4C1671.5 2644.8 1686 2644.6 1700.5 2644.7C1715.1 2644.8 1729.6 2644.9 1744.2 2645.1C1756.5 2645.2 1768.9 2645.3 1781.2 2645.4C1793.6 2645.5 1805.9 2645.6 1818.3 2645.7C1830.6 2645.8 1843 2645.9 1855.3 2646C1867.7 2646.2 1880 2646.3 1892.4 2646.4C1904.7 2646.5 1917.1 2646.6 1929.4 2646.7C1941.8 2646.8 1954.1 2646.9 1966.5 2647C1980.1 2647.1 1993.6 2647.3 2007.2 2647.4C2020.8 2647.5 2034.4 2647.6 2048 2647.7" fill="none" stroke="#c40f2e" stroke-width="2.8" stroke-linejoin="round" stroke-linecap="butt" stroke-dasharray="2.8 14.0"/>
<path d="M234.5 2650.2C241.8 2650.2 249.1 2650.2 256.3 2650.2C263.6 2650.2 270.8 2650.2 278.1 2650.2C285.4 2650.2 292.6 2650.2 299.9 2650.2C304.7 2650.2 309.6 2650.3 314.4 2650.2C318.1 2650.2 321.7 2650.5 325.3 2649.9C329.1 2649.3 333 2648.7 336.2 2646.6C340.5 2643.8 343.8 2639.6 347.1 2635.7C351.1 2631.1 354.5 2626.1 358 2621.2C361.8 2615.8 365 2610.1 368.9 2604.8C372.3 2600.4 375.6 2595.8 379.8 2592.1C382.4 2589.9 385.6 2588.4 388.9 2587.8C391.9 2587.2 395.1 2587.6 398 2588.5C401.8 2589.7 405.3 2592 408.9 2593.9C412.6 2596 415.9 2598.7 419.8 2600.5C423.2 2602 426.9 2603.3 430.7 2603.8C433.7 2604.1 436.9 2604 439.7 2603C443.1 2601.9 446.2 2600 448.8 2597.6C452.9 2593.8 456.4 2589.3 459.7 2584.9C463.6 2579.6 467.1 2574.1 470.6 2568.5C474.4 2562.6 477.6 2556.2 481.5 2550.4C484.9 2545.3 488.4 2540.4 492.4 2535.8C495.7 2532.1 499.2 2528.5 503.3 2525.7C506.6 2523.4 510.4 2521.9 514.2 2520.6C518.9 2518.9 523.8 2517.7 528.7 2516.6C534.7 2515.3 540.8 2514 546.9 2513.3C552.9 2512.6 559 2512.7 565 2512.2C571.1 2511.7 577.3 2511.7 583.2 2510.4C588.2 2509.3 593.2 2507.5 597.7 2505C601.8 2502.6 605.1 2499.1 608.6 2495.9C612.4 2492.4 615.9 2488.6 619.5 2485C623.1 2481.4 626.6 2477.6 630.4 2474.1C633.9 2470.9 637.2 2467.4 641.3 2465C644.6 2463.1 648.4 2461.9 652.2 2461.4C655.2 2461 658.4 2461.5 661.3 2462.5C664.6 2463.6 667.6 2465.4 670.4 2467.6C674.3 2470.6 677.8 2474.1 681.3 2477.7C685.1 2481.8 688.8 2486 692.2 2490.4C696.1 2495.7 699.7 2501.2 703.1 2506.8C707 2513.3 710.3 2520.1 713.9 2526.8C717.6 2533.4 721.5 2539.9 724.8 2546.7C728.7 2554.5 732.2 2562.4 735.7 2570.3C739.5 2578.8 743 2587.3 746.6 2595.8C749.7 2603 752.5 2610.4 755.7 2617.6C758.5 2623.7 761.4 2629.9 764.8 2635.7C766.8 2639.2 769.3 2642.5 772.1 2645.5C774 2647.6 776.4 2649.2 778.6 2651" fill="none" stroke="#000" stroke-width="3.7" stroke-linejoin="round" stroke-linecap="butt"/>
<path d="M1512 2651.1C1519 2651.1 1526 2651.1 1532.9 2651.1C1543 2651 1553.1 2650.9 1563.2 2650.8C1573.3 2650.7 1583.4 2650.5 1593.5 2650.5C1603.6 2650.5 1613.6 2650.6 1623.7 2650.7C1633.8 2650.8 1643.9 2650.8 1654 2650.9C1664.1 2651 1674.2 2651.1 1684.3 2651.1C1697.1 2651.1 1710 2651 1722.8 2650.9C1735.7 2650.8 1748.6 2650.8 1761.4 2650.7C1774.3 2650.6 1787.1 2650.5 1800 2650.5C1813.9 2650.5 1827.9 2650.5 1841.8 2650.5C1855.8 2650.5 1869.7 2650.5 1883.7 2650.5C1897.6 2650.5 1911.6 2650.5 1925.5 2650.5C1939.4 2650.5 1953.4 2650.5 1967.3 2650.5C1981.3 2650.5 1995.2 2650.5 2009.2 2650.5C2023.1 2650.5 2037.1 2650.5 2051 2650.5" fill="none" stroke="#dc1419" stroke-width="3.2" stroke-linejoin="round" stroke-linecap="butt"/>
<path d="M778.8 2651.1C781.6 2647.7 784.8 2644.5 787.2 2640.8C789.6 2637.2 791.5 2633.3 793.3 2629.3C795.6 2624.1 797.5 2618.7 799.3 2613.3C801.5 2606.8 803.5 2600.2 805.4 2593.6C807.5 2586.5 809.4 2579.5 811.5 2572.4C813.5 2565.3 815.5 2558.3 817.5 2551.2C819.5 2544.1 821.4 2537 823.6 2530C825.4 2523.9 827.3 2517.8 829.6 2511.9C831.4 2507.2 833.4 2502.7 835.7 2498.2C837.4 2494.8 839.3 2491.3 841.7 2488.3C843.4 2486.2 845.4 2484.4 847.8 2483.1C850.1 2481.9 852.7 2481.1 855.3 2481C857.9 2480.8 860.5 2481.3 862.9 2482.2C866.1 2483.4 868.9 2485.6 872 2487C874.9 2488.4 877.9 2489.7 881.1 2490.7C883 2491.3 885.1 2491.8 887.1 2491.6C889.8 2491.3 892.4 2490.5 894.7 2489.2C897.5 2487.6 900 2485.4 902.3 2483.1C905.5 2479.8 908.4 2476.1 911.3 2472.5C914.5 2468.6 917.4 2464.4 920.4 2460.4C923.4 2456.4 926.2 2452.2 929.5 2448.3C931.8 2445.6 934.1 2442.7 937.1 2440.7C939.3 2439.3 942 2438.3 944.6 2438.3C947.3 2438.3 950 2439.3 952.2 2440.7C955.2 2442.7 957.6 2445.5 959.8 2448.3C963.1 2452.6 966.1 2457.2 968.8 2461.9C972.2 2467.8 974.9 2474 977.9 2480.1C980.9 2486.1 983.8 2492.3 987 2498.2C989.8 2503.4 992.7 2508.6 996.1 2513.4C998.8 2517.2 1001.6 2520.9 1005.2 2524C1007.8 2526.2 1010.9 2528.2 1014.2 2529.1C1017.1 2529.9 1020.3 2529.7 1023.3 2529.1C1026.5 2528.5 1029.4 2526.7 1032.4 2525.5C1036.4 2523.9 1040.3 2522.1 1044.5 2520.9C1048.5 2519.9 1052.5 2519.1 1056.6 2518.8C1059.6 2518.6 1062.8 2518.6 1065.7 2519.4C1068.9 2520.4 1072 2522 1074.8 2524C1079.1 2527.1 1083 2530.9 1086.9 2534.6C1091 2538.5 1094.8 2542.8 1099 2546.7C1102.9 2550.3 1106.8 2554 1111.1 2557.3C1114.9 2560.1 1118.9 2562.8 1123.2 2564.8C1127 2566.6 1131.2 2567.5 1135.3 2568.5C1141.3 2569.8 1147.4 2570.7 1153.5 2571.8C1163.5 2573.6 1173.7 2574.8 1183.7 2576.9C1193.9 2579.1 1203.9 2582.1 1214 2584.5C1224.1 2586.9 1234.2 2588.9 1244.3 2591.2C1249.7 2592.4 1255.3 2593.2 1260.5 2595.1C1265.8 2597 1270.8 2599.8 1275.7 2602.7C1280.9 2605.8 1285.6 2610 1290.8 2613.3C1295.7 2616.3 1300.7 2619.1 1305.9 2621.4C1310.8 2623.6 1315.9 2625.4 1321.1 2626.9C1326 2628.3 1331.2 2628.8 1336.2 2629.9C1341.3 2631 1346.3 2632.1 1351.3 2633.5C1356.4 2635 1361.5 2636.6 1366.5 2638.4C1371.6 2640.2 1376.4 2642.7 1381.6 2644.4C1385.5 2645.7 1389.6 2646.8 1393.7 2647.5C1398.7 2648.2 1403.8 2649 1408.8 2648.7C1414 2648.4 1418.9 2646.5 1424 2645.6C1429 2644.8 1434 2644 1439.1 2643.5C1443.1 2643.1 1447.2 2642.8 1451.2 2642.9C1456.3 2643 1461.3 2643.5 1466.3 2644.1C1471.4 2644.7 1476.4 2645.6 1481.5 2646.5C1486.5 2647.5 1491.5 2648.7 1496.6 2649.6C1500.6 2650.2 1504.7 2650.7 1508.7 2651.1C1509.8 2651.2 1510.9 2651.1 1512 2651.1" fill="none" stroke="#f20d12" stroke-width="4.2" stroke-linejoin="round" stroke-linecap="butt"/>
<g stroke="#000" stroke-width="4.6" fill="none" stroke-linecap="butt">
<path d="M233.3 1466 V2695.2"/>
<path d="M231 2671.8 H2052.8"/>
</g>
<g stroke="#000" stroke-width="3.6" fill="none" stroke-linecap="butt">
<path d="M209.3 2650.6 H233.3"/>
<path d="M222 2543 H233.3"/>
<path d="M209.3 2435.4 H233.3"/>
<path d="M222 2327.8 H233.3"/>
<path d="M209.3 2220.1 H233.3"/>
<path d="M222 2112.5 H233.3"/>
<path d="M209.3 2004.9 H233.3"/>
<path d="M222 1897.3 H233.3"/>
<path d="M209.3 1789.7 H233.3"/>
<path d="M222 1682.1 H233.3"/>
<path d="M209.3 1574.4 H233.3"/>
<path d="M222 1468.3 H233.3"/>
<path d="M325.4 2671.8 V2685.5"/>
<path d="M416.1 2671.8 V2695.2"/>
<path d="M506.9 2671.8 V2685.5"/>
<path d="M597.7 2671.8 V2695.2"/>
<path d="M688.5 2671.8 V2685.5"/>
<path d="M779.2 2671.8 V2695.2"/>
<path d="M870 2671.8 V2685.5"/>
<path d="M960.8 2671.8 V2695.2"/>
<path d="M1051.6 2671.8 V2685.5"/>
<path d="M1142.3 2671.8 V2695.2"/>
<path d="M1233.1 2671.8 V2685.5"/>
<path d="M1323.9 2671.8 V2695.2"/>
<path d="M1414.7 2671.8 V2685.5"/>
<path d="M1505.4 2671.8 V2695.2"/>
<path d="M1596.2 2671.8 V2685.5"/>
<path d="M1687 2671.8 V2695.2"/>
<path d="M1777.8 2671.8 V2685.5"/>
<path d="M1868.5 2671.8 V2695.2"/>
<path d="M1959.3 2671.8 V2685.5"/>
<path d="M2050.1 2671.8 V2695.2"/>
</g>
<g font-family='"Liberation Sans", Arial, Helvetica, sans-serif'>
<text transform="translate(194.4 2660.6) scale(0.962 1)" text-anchor="end" font-size="47" fill="#000" xml:space="preserve">0</text>
<text transform="translate(194.4 2445.4) scale(0.962 1)" text-anchor="end" font-size="47" fill="#000" xml:space="preserve">1000</text>
<text transform="translate(194.4 2230.1) scale(0.962 1)" text-anchor="end" font-size="47" fill="#000" xml:space="preserve">2000</text>
<text transform="translate(194.4 2014.9) scale(0.962 1)" text-anchor="end" font-size="47" fill="#000" xml:space="preserve">3000</text>
<text transform="translate(194.4 1799.7) scale(0.962 1)" text-anchor="end" font-size="47" fill="#000" xml:space="preserve">4000</text>
<text transform="translate(194.4 1584.4) scale(0.962 1)" text-anchor="end" font-size="47" fill="#000" xml:space="preserve">5000</text>
<text transform="translate(233.6 2744.2) scale(0.962 1)" text-anchor="middle" font-size="47" fill="#000" xml:space="preserve">250</text>
<text transform="translate(415.1 2744.2) scale(0.962 1)" text-anchor="middle" font-size="47" fill="#000" xml:space="preserve">300</text>
<text transform="translate(596.7 2744.2) scale(0.962 1)" text-anchor="middle" font-size="47" fill="#000" xml:space="preserve">350</text>
<text transform="translate(778.2 2744.2) scale(0.962 1)" text-anchor="middle" font-size="47" fill="#000" xml:space="preserve">400</text>
<text transform="translate(959.8 2744.2) scale(0.962 1)" text-anchor="middle" font-size="47" fill="#000" xml:space="preserve">450</text>
<text transform="translate(1141.3 2744.2) scale(0.962 1)" text-anchor="middle" font-size="47" fill="#000" xml:space="preserve">500</text>
<text transform="translate(1322.9 2744.2) scale(0.962 1)" text-anchor="middle" font-size="47" fill="#000" xml:space="preserve">550</text>
<text transform="translate(1504.4 2744.2) scale(0.962 1)" text-anchor="middle" font-size="47" fill="#000" xml:space="preserve">600</text>
<text transform="translate(1686 2744.2) scale(0.962 1)" text-anchor="middle" font-size="47" fill="#000" xml:space="preserve">650</text>
<text transform="translate(1867.5 2744.2) scale(0.962 1)" text-anchor="middle" font-size="47" fill="#000" xml:space="preserve">700</text>
<text transform="translate(2049.1 2744.2) scale(0.962 1)" text-anchor="middle" font-size="47" fill="#000" xml:space="preserve">750</text>
<text transform="translate(52.4 2104.7) rotate(-90) scale(0.99 1)" text-anchor="middle" font-size="54" fill="#000" xml:space="preserve">Intensity (a.u.)</text>
<text transform="translate(1064 2834)" text-anchor="start" font-size="54" fill="#000" xml:space="preserve"><tspan font-family='"Liberation Serif", "DejaVu Serif", serif' font-size="48" textLength="27.0" lengthAdjust="spacingAndGlyphs">λ</tspan><tspan x="25.7" textLength="132.3" lengthAdjust="spacingAndGlyphs"> (nm)</tspan></text>
<path d="M1675 2414.4 H1791.2" stroke="#000" stroke-width="4.5" fill="none"/>
<text transform="translate(1802.5 2429.4) scale(0.963 1)" text-anchor="start" font-size="45.5" fill="#000" xml:space="preserve">Excitation 1</text>
<path d="M1675 2470.8 H1791.2" stroke="#111" stroke-width="3.2" fill="none" stroke-dasharray="3.2 13.8"/>
<text transform="translate(1802.5 2482.8) scale(0.963 1)" text-anchor="start" font-size="45.5" fill="#000" xml:space="preserve">Excitation 2</text>
<path d="M1675 2527.4 H1791.2" stroke="#f20d12" stroke-width="4.6" fill="none"/>
<text transform="translate(1802.5 2540) scale(0.963 1)" text-anchor="start" font-size="45.5" fill="#000" xml:space="preserve">Emission  1</text>
<path d="M1675 2581.6 H1791.2" stroke="#c40f2e" stroke-width="3.2" fill="none" stroke-dasharray="3.2 13.8"/>
<text transform="translate(1802.5 2597.2) scale(0.963 1)" text-anchor="start" font-size="45.5" fill="#000" xml:space="preserve">Emission  2</text>
</g>
</g>
</svg>
</body>
</html>
